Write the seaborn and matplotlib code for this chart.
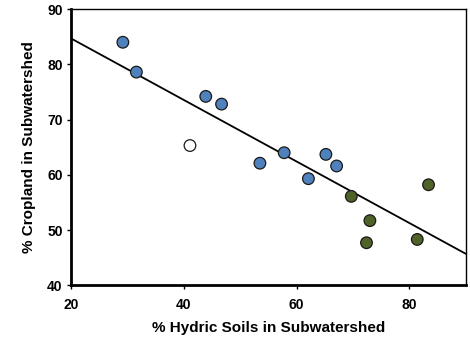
import matplotlib
matplotlib.use("Agg")
import matplotlib.pyplot as plt
import seaborn as sns
import pandas as pd

sns.set_style("white")
plt.rcParams['font.family'] = ['Liberation Sans', 'DejaVu Sans']
plt.rcParams['text.color'] = 'black'
plt.rcParams['axes.labelcolor'] = 'black'
plt.rcParams['xtick.color'] = 'black'
plt.rcParams['ytick.color'] = 'black'

blue_x = [29.2, 31.6, 43.9, 46.7, 53.5, 57.8, 62.1, 65.2, 67.1]
blue_y = [84.0, 78.6, 74.2, 72.8, 62.1, 64.0, 59.3, 63.7, 61.6]
white_x = [41.1]
white_y = [65.3]
green_x = [69.7, 72.4, 73.0, 81.4, 83.4]
green_y = [56.1, 47.7, 51.7, 48.3, 58.2]
trend_x = [20, 90]
trend_y = [84.7, 45.7]

xticks = [20, 40, 60, 80]
yticks = [40, 50, 60, 70, 80, 90]

df = pd.concat([
    pd.DataFrame({"x": blue_x, "y": blue_y, "g": "blue"}),
    pd.DataFrame({"x": white_x, "y": white_y, "g": "white"}),
    pd.DataFrame({"x": green_x, "y": green_y, "g": "green"}),
])
palette = {"blue": "#4F81BD", "white": "#FFFFFF", "green": "#4F6228"}

fig = plt.figure(figsize=(4.7, 3.38), dpi=100)
ax = fig.add_axes([0.151, 0.156, 0.840, 0.817])

sns.lineplot(x=trend_x, y=trend_y, ax=ax, color="black", linewidth=1.3, zorder=1)
sns.scatterplot(data=df, x="x", y="y", hue="g", palette=palette, ax=ax,
                s=70, edgecolor="#1a1a1a", linewidth=0.9, legend=False, zorder=3)

ax.set_xlim(20, 90)
ax.set_ylim(40, 90)
ax.set_xticks(xticks)
ax.set_yticks(yticks)
ax.tick_params(axis="both", direction="out", length=3, width=1, labelsize=10,
               bottom=True, left=True, color="black", labelcolor="black")
ax.tick_params(axis="x", pad=6)
ax.tick_params(axis="y", pad=3)
for t in ax.get_xticklabels() + ax.get_yticklabels():
    t.set_fontweight("bold")

for side in ["left", "bottom"]:
    ax.spines[side].set_linewidth(2)
    ax.spines[side].set_color("black")
for side in ["top", "right"]:
    ax.spines[side].set_linewidth(1)
    ax.spines[side].set_color("black")

ax.set_xlabel("% Hydric Soils in Subwatershed", fontsize=11, fontweight="bold", labelpad=7, color="black")
ax.set_ylabel("% Cropland in Subwatershed", fontsize=11, fontweight="bold", labelpad=8, color="black")

fig.savefig("out.png", dpi=100)
